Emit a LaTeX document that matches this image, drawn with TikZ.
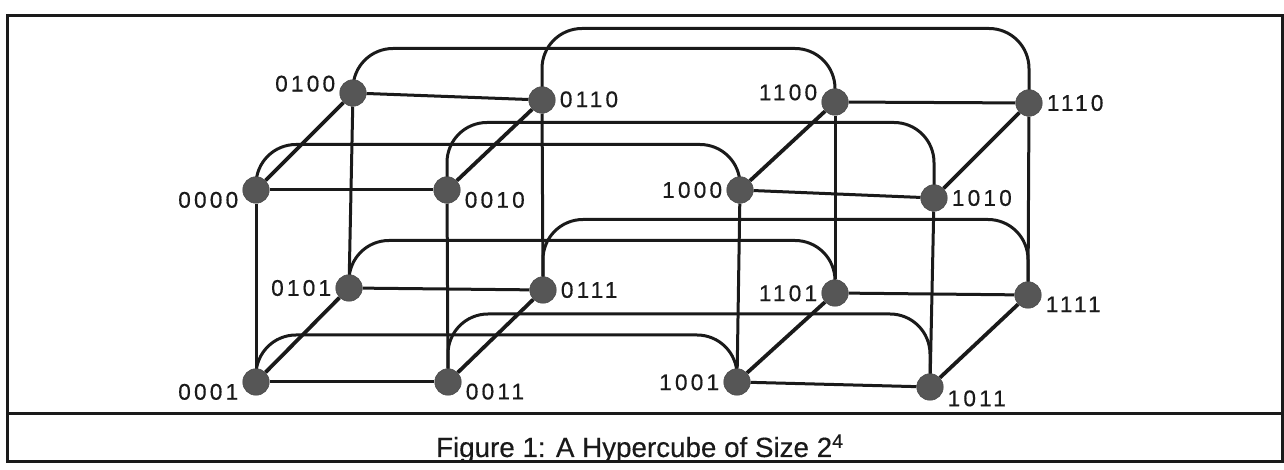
\documentclass[tikz,border=0pt]{standalone}
\usepackage{fontspec}
\setmainfont{Liberation Sans}
\newfontfamily\bitsfont[LetterSpace=14,FakeBold=0.5]{Liberation Sans}
\newfontfamily\capfont[FakeBold=0.4]{Liberation Sans}
\usetikzlibrary{positioning,calc,backgrounds}
\definecolor{ink}{HTML}{1A1A1A}
\definecolor{dot}{HTML}{565656}

\begin{document}
\begin{tikzpicture}[x=0.2mm,y=0.2mm,
    vertex/.style={circle,fill=dot,draw=ink!80,line width=0.3pt,inner sep=0pt,minimum size=5.3mm},
    bits/.style={font=\bitsfont\fontsize{12.9}{14}\selectfont,inner sep=0pt,text=ink},
    label distance=0.8mm,
    edge/.style={ink,line width=0.6mm},
    slant/.style={ink,line width=0.75mm},
    hop/.style={ink,line width=0.6mm,rounded corners=8mm}]
  \useasboundingbox (0,0) rectangle (1284,470);
  % frame with caption strip
  \draw[ink,line width=0.6mm] (7,8) rectangle (1282,454);
  \draw[ink,line width=0.6mm] (7,56) -- (1282,56);
  \node[font=\capfont\fontsize{15.8}{18}\selectfont,anchor=base,text=ink] (caption) at (640,13)
       {Figure 1: A Hypercube of Size 2\textsuperscript{4}};
  % the sixteen processors
  \foreach \b/\x/\y/\s in {0100/353/377/177, 0110/542/370/2, 1100/835/368/176, 1110/1029/367/0,
                           0000/256/280/185, 0010/447/280/-5, 1000/740/280/180, 1010/934/272/0,
                           0101/349/182/180, 0111/543/180/0, 1101/835/177/181, 1111/1028/175/-4,
                           0001/256/88/185, 0011/448/88/-4, 1001/737/88/181, 1011/930/83/-10}{
    \node[vertex,label={[bits]\s:\b}] (n\b) at (\x,\y) {};
  }
  \begin{scope}[on background layer]
    % edges inside each 3-cube
    \foreach \a/\b in {0000/0010,0100/0110,0001/0011,0101/0111,
                       1000/1010,1100/1110,1001/1011,1101/1111,
                       0000/0001,0010/0011,0100/0101,0110/0111,
                       1000/1001,1010/1011,1100/1101,1110/1111}
      \draw[edge] (n\a) -- (n\b);
    \foreach \a/\b in {0000/0100,0010/0110,0001/0101,0011/0111,
                       1000/1100,1010/1110,1001/1101,1011/1111}
      \draw[slant] (n\a) -- (n\b);
    % edges between the two 3-cubes
    \foreach \r/\d in {100/53.5,110/74.5,000/45.5,010/75.5,101/52.5,111/75.5,001/47,011/73}
      \draw[hop] (n0\r.center) |- ($(n1\r.center)+(0,\d)$) -- (n1\r.center);
  \end{scope}
\end{tikzpicture}
\end{document}
